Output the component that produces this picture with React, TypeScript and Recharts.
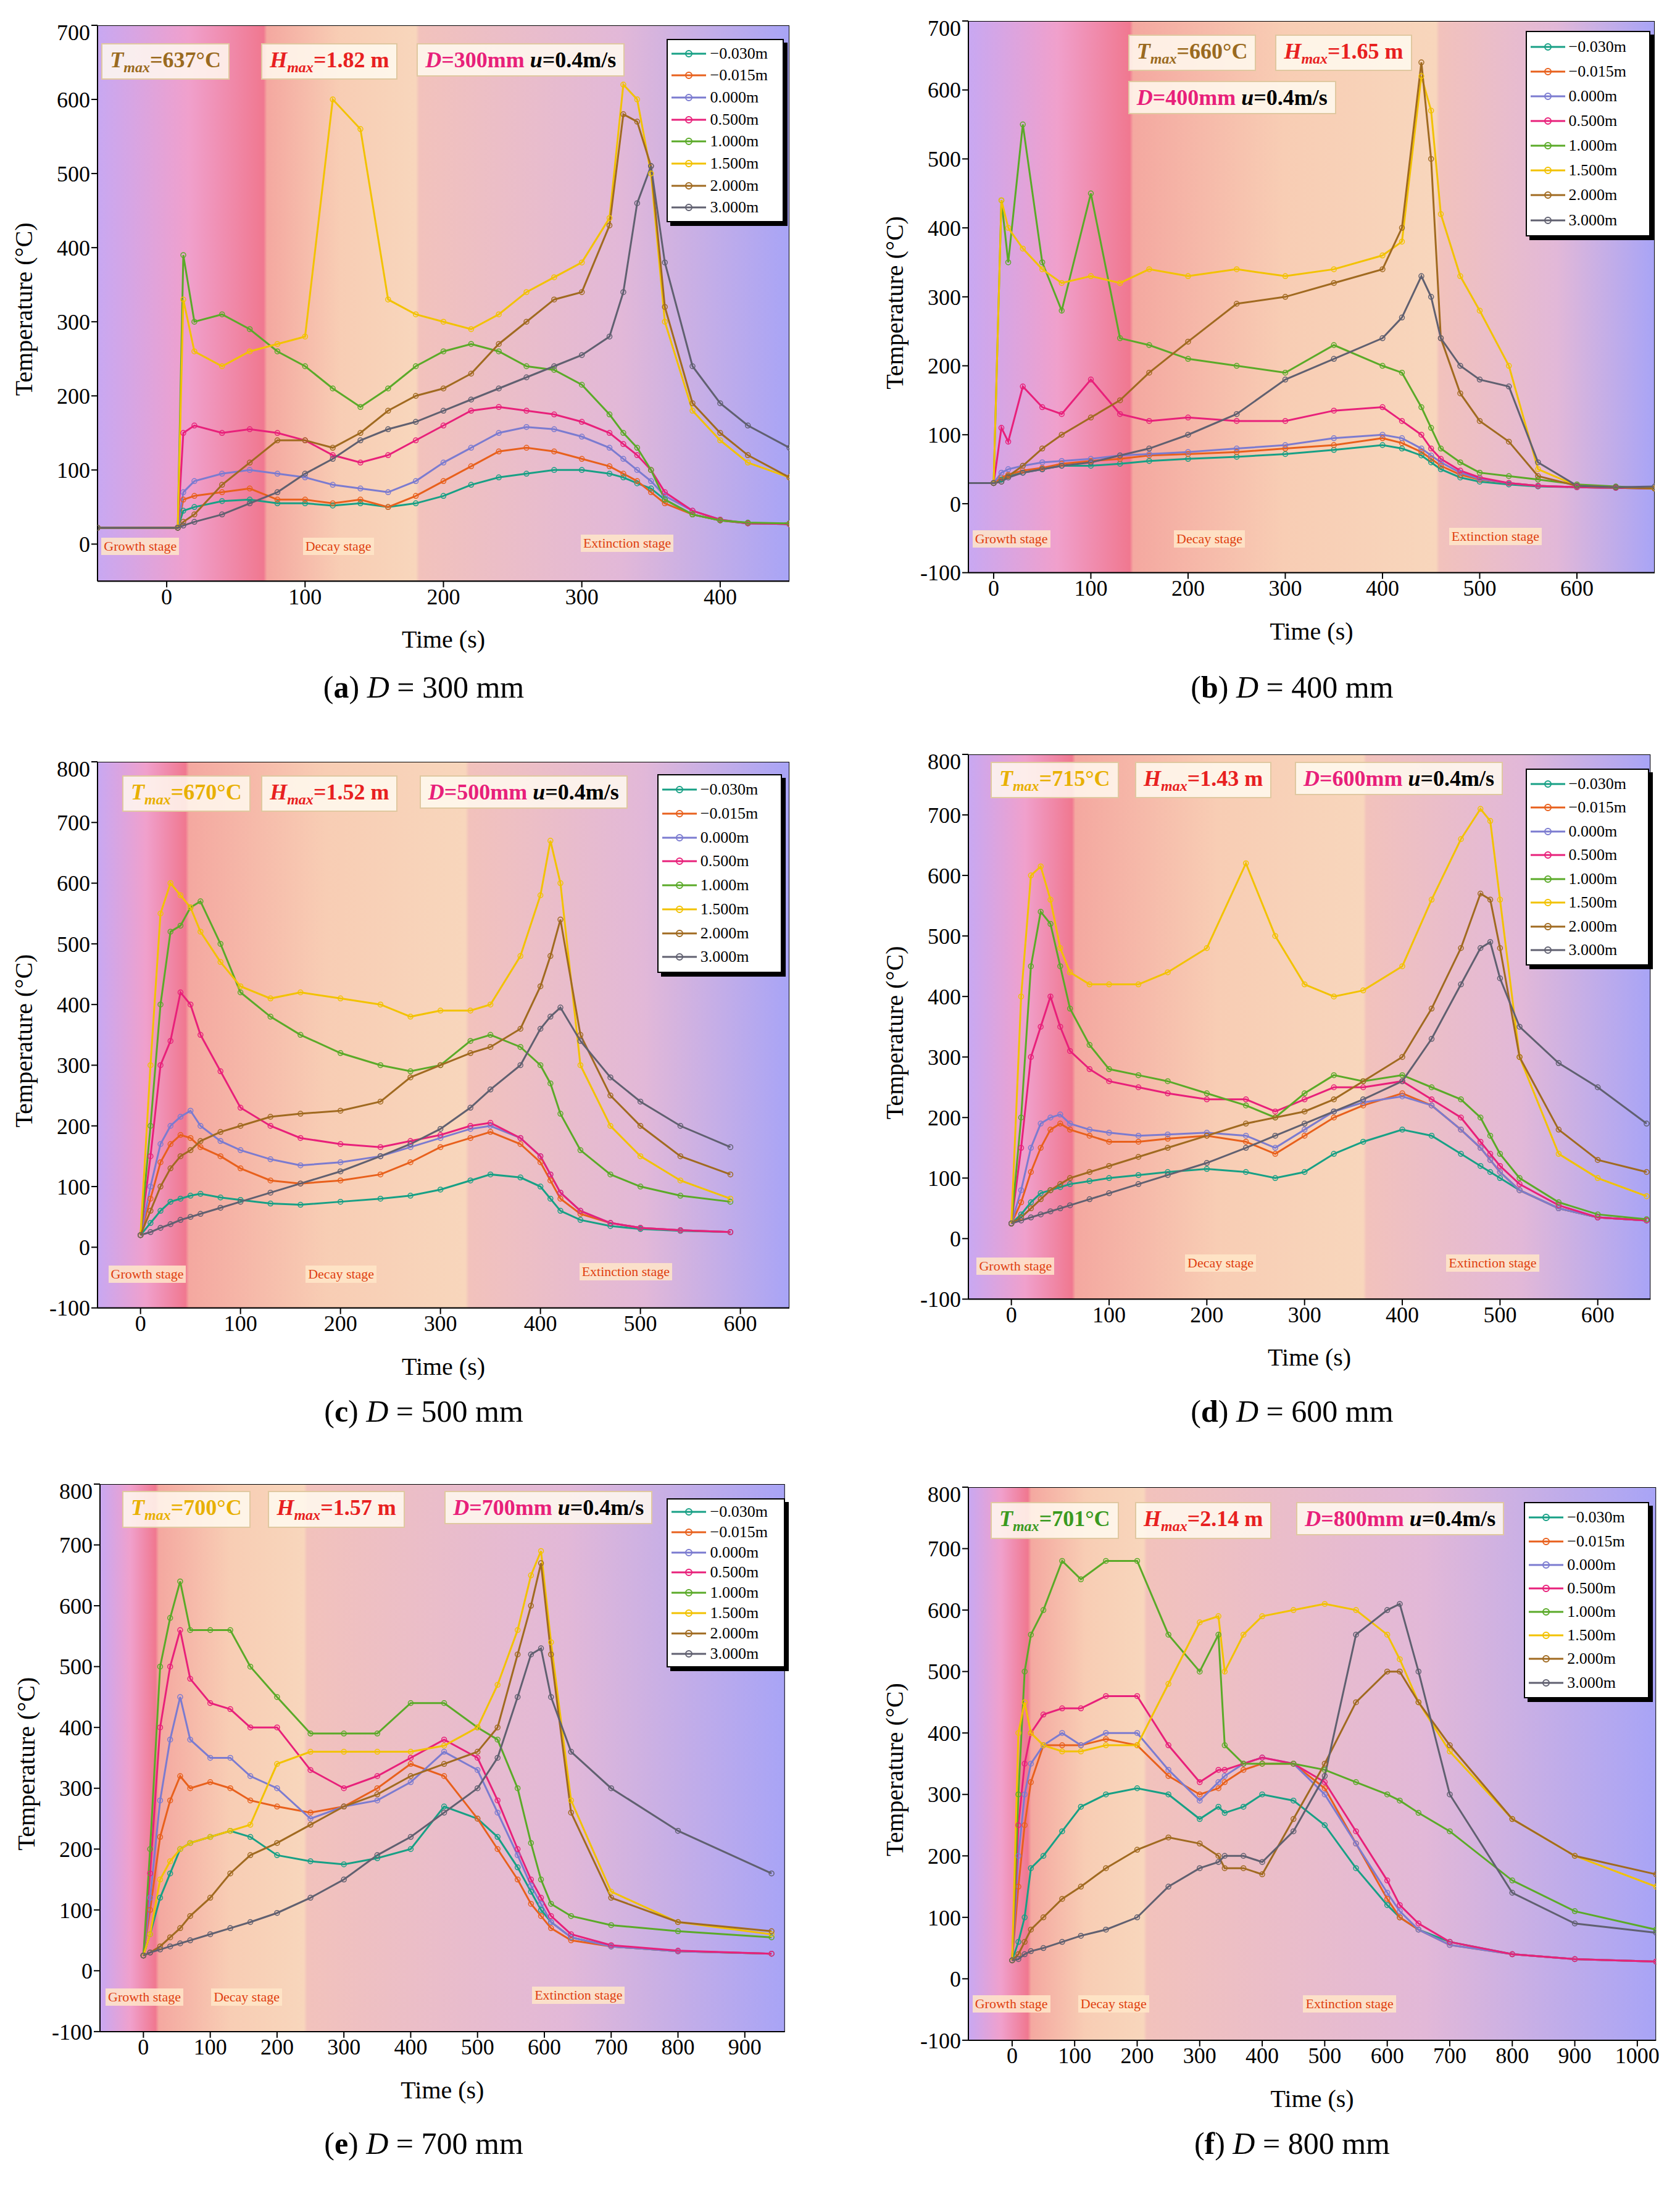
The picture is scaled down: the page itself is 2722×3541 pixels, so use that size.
import React from "react";
import { LineChart, Line, XAxis, YAxis, ReferenceArea } from "recharts";

const S = 2.251; // displayed -> full px

const seriesNames = ["-0.030m", "-0.015m", "0.000m", "0.500m", "1.000m", "1.500m", "2.000m", "3.000m"];
const colors = ["#17a085", "#e8601c", "#7b7bd0", "#e8207a", "#5aaa28", "#f2c200", "#a06a20", "#606070"];

// (a) D = 300 mm
const timesA = [-50, 8, 12, 20, 40, 60, 80, 100, 120, 140, 160, 180, 200, 220, 240, 260, 280, 300, 320, 330, 340, 350, 360, 380, 400, 420, 450];
const aS1 = [22, 22, 45, 50, 58, 60, 55, 55, 52, 55, 50, 55, 65, 80, 90, 95, 100, 100, 95, 90, 82, 75, 60, 40, 32, 28, 27];
const aS2 = [22, 22, 60, 65, 70, 75, 60, 60, 55, 60, 50, 65, 85, 105, 125, 130, 125, 115, 105, 95, 85, 70, 55, 40, 32, 28, 27];
const aS3 = [22, 22, 70, 85, 95, 100, 95, 90, 80, 75, 70, 85, 110, 130, 150, 158, 155, 145, 130, 115, 100, 85, 65, 45, 33, 28, 27];
const aS4 = [22, 22, 150, 160, 150, 155, 150, 140, 120, 110, 120, 140, 160, 180, 185, 180, 175, 165, 150, 135, 120, 100, 70, 45, 33, 28, 27];
const aS5 = [22, 22, 390, 300, 310, 290, 260, 240, 210, 185, 210, 240, 260, 270, 260, 240, 235, 215, 175, 150, 130, 100, 60, 40, 32, 29, 28];
const aS6 = [22, 22, 330, 260, 240, 260, 270, 280, 600, 560, 330, 310, 300, 290, 310, 340, 360, 380, 440, 620, 600, 500, 300, 180, 140, 110, 90];
const aS7 = [22, 22, 30, 40, 80, 110, 140, 140, 130, 150, 180, 200, 210, 230, 270, 300, 330, 340, 430, 580, 570, 510, 320, 190, 150, 120, 90];
const aS8 = [22, 22, 25, 30, 40, 55, 70, 95, 115, 140, 155, 165, 180, 195, 210, 225, 240, 255, 280, 340, 460, 510, 380, 240, 190, 160, 130];

// (b) D = 400 mm
const timesB = [-30, 0, 8, 15, 30, 50, 70, 100, 130, 160, 200, 250, 300, 350, 400, 420, 440, 450, 460, 480, 500, 530, 560, 600, 640, 680];
const bS1 = [30, 30, 35, 40, 45, 50, 55, 55, 58, 62, 65, 68, 72, 78, 85, 80, 70, 60, 50, 38, 32, 28, 25, 24, 23, 22];
const bS2 = [30, 30, 38, 42, 48, 52, 58, 62, 65, 70, 72, 75, 80, 85, 95, 88, 75, 65, 55, 42, 35, 30, 26, 24, 23, 22];
const bS3 = [30, 30, 45, 50, 55, 60, 62, 65, 70, 72, 75, 80, 85, 95, 100, 95, 80, 70, 60, 45, 36, 30, 26, 24, 23, 22];
const bS4 = [30, 30, 110, 90, 170, 140, 130, 180, 130, 120, 125, 120, 120, 135, 140, 120, 100, 80, 65, 48, 38, 30, 26, 24, 23, 22];
const bS5 = [30, 30, 440, 350, 550, 350, 280, 450, 240, 230, 210, 200, 190, 230, 200, 190, 140, 110, 80, 60, 45, 40, 35, 28, 25, 22];
const bS6 = [30, 30, 440, 400, 370, 340, 320, 330, 320, 340, 330, 340, 330, 340, 360, 380, 620, 570, 420, 330, 280, 200, 50, 26, 24, 22];
const bS7 = [30, 30, 32, 40, 55, 80, 100, 125, 150, 190, 235, 290, 300, 320, 340, 400, 640, 500, 240, 160, 120, 90, 40, 26, 24, 22];
const bS8 = [30, 30, 32, 38, 45, 50, 55, 60, 70, 80, 100, 130, 180, 210, 240, 270, 330, 300, 240, 200, 180, 170, 60, 26, 24, 25];

// (c) D = 500 mm
const timesC = [0, 10, 20, 30, 40, 50, 60, 80, 100, 130, 160, 200, 240, 270, 300, 330, 350, 380, 400, 410, 420, 440, 470, 500, 540, 590];
const cS1 = [20, 40, 60, 75, 80, 85, 88, 82, 78, 72, 70, 75, 80, 85, 95, 110, 120, 115, 100, 80, 60, 45, 35, 30, 27, 25];
const cS2 = [20, 80, 140, 170, 185, 180, 165, 150, 130, 110, 105, 110, 120, 140, 165, 180, 190, 170, 140, 110, 80, 55, 40, 32, 28, 25];
const cS3 = [20, 100, 170, 200, 215, 225, 200, 175, 160, 145, 135, 140, 150, 165, 180, 195, 200, 180, 150, 120, 90, 60, 40, 32, 28, 25];
const cS4 = [20, 150, 300, 340, 420, 400, 350, 290, 230, 200, 180, 170, 165, 175, 185, 200, 205, 180, 150, 120, 90, 60, 40, 32, 28, 25];
const cS5 = [20, 200, 400, 520, 530, 560, 570, 500, 420, 380, 350, 320, 300, 290, 300, 340, 350, 330, 300, 270, 220, 160, 120, 100, 85, 75];
const cS6 = [20, 300, 550, 600, 580, 560, 520, 470, 430, 410, 420, 410, 400, 380, 390, 390, 400, 480, 580, 670, 600, 300, 200, 150, 110, 80];
const cS7 = [20, 60, 100, 130, 150, 160, 175, 190, 200, 215, 220, 225, 240, 280, 300, 320, 330, 360, 430, 480, 540, 350, 250, 200, 150, 120];
const cS8 = [20, 25, 32, 38, 45, 50, 55, 65, 75, 90, 105, 125, 150, 170, 195, 230, 260, 300, 360, 380, 395, 340, 280, 240, 200, 165];

// (d) D = 600 mm
const timesD = [0, 10, 20, 30, 40, 50, 60, 80, 100, 130, 160, 200, 240, 270, 300, 330, 360, 400, 430, 460, 480, 490, 500, 520, 560, 600, 650];
const dS1 = [25, 40, 60, 75, 80, 85, 90, 95, 100, 105, 110, 115, 110, 100, 110, 140, 160, 180, 170, 140, 120, 110, 100, 80, 50, 35, 30];
const dS2 = [25, 60, 110, 150, 180, 190, 180, 170, 160, 160, 165, 170, 160, 140, 170, 200, 220, 240, 220, 180, 150, 130, 110, 80, 50, 35, 30];
const dS3 = [25, 80, 150, 190, 200, 205, 190, 180, 175, 170, 172, 175, 170, 150, 180, 210, 225, 235, 220, 180, 150, 130, 110, 80, 50, 35, 30];
const dS4 = [25, 150, 300, 350, 400, 350, 310, 280, 260, 250, 240, 230, 230, 210, 230, 250, 250, 260, 230, 200, 160, 140, 120, 90, 55, 35, 30];
const dS5 = [25, 200, 450, 540, 520, 450, 380, 320, 280, 270, 260, 240, 220, 200, 240, 270, 260, 270, 250, 230, 200, 170, 140, 100, 60, 40, 32];
const dS6 = [25, 400, 600, 615, 560, 480, 440, 420, 420, 420, 440, 480, 620, 500, 420, 400, 410, 450, 560, 660, 710, 690, 560, 300, 140, 100, 70];
const dS7 = [25, 35, 50, 65, 80, 90, 100, 110, 120, 135, 150, 170, 190, 200, 210, 230, 260, 300, 380, 480, 570, 560, 480, 300, 180, 130, 110];
const dS8 = [25, 30, 35, 40, 45, 50, 55, 65, 75, 90, 105, 125, 150, 170, 190, 210, 230, 260, 330, 420, 480, 490, 430, 350, 290, 250, 190];

// (e) D = 700 mm
const timesE = [0, 10, 25, 40, 55, 70, 100, 130, 160, 200, 250, 300, 350, 400, 450, 500, 530, 560, 580, 595, 610, 640, 700, 800, 940];
const eS1 = [25, 60, 120, 160, 200, 210, 220, 230, 220, 190, 180, 175, 185, 200, 270, 250, 220, 170, 130, 100, 80, 55, 40, 32, 28];
const eS2 = [25, 100, 220, 280, 320, 300, 310, 300, 280, 270, 260, 270, 300, 340, 320, 250, 200, 150, 110, 90, 70, 50, 40, 32, 28];
const eS3 = [25, 120, 280, 380, 450, 380, 350, 350, 320, 300, 250, 270, 280, 310, 360, 330, 260, 190, 140, 110, 80, 55, 40, 32, 28];
const eS4 = [25, 160, 400, 500, 560, 480, 440, 430, 400, 400, 330, 300, 320, 350, 380, 350, 280, 200, 150, 120, 90, 60, 42, 33, 28];
const eS5 = [25, 200, 500, 580, 640, 560, 560, 560, 500, 450, 390, 390, 390, 440, 440, 400, 380, 300, 210, 150, 110, 90, 75, 65, 55];
const eS6 = [25, 60, 150, 180, 200, 210, 220, 230, 240, 340, 360, 360, 360, 360, 370, 400, 470, 560, 650, 690, 540, 280, 130, 80, 60];
const eS7 = [25, 30, 40, 55, 70, 90, 120, 160, 190, 210, 240, 270, 290, 320, 340, 360, 400, 520, 600, 670, 520, 260, 120, 80, 65];
const eS8 = [25, 30, 35, 40, 45, 50, 60, 70, 80, 95, 120, 150, 190, 220, 260, 300, 350, 450, 520, 530, 450, 360, 300, 230, 160];

// (f) D = 800 mm
const timesF = [0, 10, 20, 30, 50, 80, 110, 150, 200, 250, 300, 330, 340, 370, 400, 450, 500, 550, 600, 620, 650, 700, 800, 900, 1030];
const fS1 = [30, 60, 100, 180, 200, 240, 280, 300, 310, 300, 260, 280, 270, 280, 300, 290, 250, 180, 120, 100, 80, 60, 40, 32, 28];
const fS2 = [30, 150, 250, 320, 380, 380, 380, 390, 380, 330, 300, 310, 320, 340, 350, 350, 310, 220, 130, 100, 80, 55, 40, 32, 28];
const fS3 = [30, 200, 300, 350, 380, 400, 380, 400, 400, 340, 290, 320, 330, 350, 360, 350, 300, 220, 140, 110, 80, 55, 40, 32, 28];
const fS4 = [30, 250, 350, 400, 430, 440, 440, 460, 460, 380, 320, 340, 340, 350, 360, 350, 320, 240, 160, 120, 90, 60, 40, 32, 28];
const fS5 = [30, 300, 500, 560, 600, 680, 650, 680, 680, 560, 500, 560, 380, 350, 350, 350, 340, 320, 300, 290, 270, 240, 160, 110, 80];
const fS6 = [30, 400, 450, 400, 380, 370, 370, 380, 380, 480, 580, 590, 500, 560, 590, 600, 610, 600, 560, 520, 450, 370, 260, 200, 150];
const fS7 = [30, 40, 60, 80, 100, 130, 150, 180, 210, 230, 220, 200, 180, 180, 170, 260, 350, 450, 500, 500, 450, 380, 260, 200, 170];
const fS8 = [30, 32, 40, 45, 50, 60, 70, 80, 100, 150, 180, 190, 200, 200, 190, 240, 330, 560, 600, 610, 500, 300, 140, 90, 75];

const ticks300 = [0, 100, 200, 300, 400];
const ticks600 = [0, 100, 200, 300, 400, 500, 600];
const ticks900 = [0, 100, 200, 300, 400, 500, 600, 700, 800, 900];
const ticks1000 = [0, 100, 200, 300, 400, 500, 600, 700, 800, 900, 1000];
const yTicks700 = [0, 100, 200, 300, 400, 500, 600, 700];
const yTicksB = [-100, 0, 100, 200, 300, 400, 500, 600, 700];
const yTicks800 = [-100, 0, 100, 200, 300, 400, 500, 600, 700, 800];

function build(times: number[], series: number[][]) {
  return times.map((t, i) => {
    const row: any = { t };
    series.forEach((s, k) => (row["s" + k] = s[i]));
    return row;
  });
}

type P = {
  id: string; letter: string; dmm: string; tmax: string; hmax: string; tColor: string;
  data: any[]; xDom: [number, number]; yDom: [number, number]; xTicks: number[]; yTicks: number[];
  plot: [number, number, number, number]; // displayed l,t,r,b
  growth: number; decay: number;
  boxes: { tm: [number, number]; hm: [number, number]; du: [number, number] };
  legend: [number, number, number, number];
  stages: [number, number][];
  caption: [number, number];
};

const panels: P[] = [
  { id: "a", letter: "a", dmm: "300", tmax: "637", hmax: "1.82", tColor: "#9a6a20", data: build(timesA, [aS1, aS2, aS3, aS4, aS5, aS6, aS7, aS8]),
    xDom: [-50, 450], yDom: [-50, 700], xTicks: ticks300, yTicks: yTicks700, plot: [70, 18, 568, 418], growth: 70, decay: 180,
    boxes: { tm: [73, 31], hm: [188, 31], du: [300, 31] }, legend: [480, 28, 564, 160],
    stages: [[73, 393], [218, 393], [418, 391]], caption: [305, 495] },
  { id: "b", letter: "b", dmm: "400", tmax: "660", hmax: "1.65", tColor: "#9a6a20", data: build(timesB, [bS1, bS2, bS3, bS4, bS5, bS6, bS7, bS8]),
    xDom: [-26, 680], yDom: [-100, 700], xTicks: ticks600, yTicks: yTicksB, plot: [697, 15, 1191, 412], growth: 140, decay: 455,
    boxes: { tm: [812, 25], hm: [918, 25], du: [812, 58] }, legend: [1098, 22, 1188, 170],
    stages: [[700, 388], [845, 388], [1043, 386]], caption: [930, 495] },
  { id: "c", letter: "c", dmm: "500", tmax: "670", hmax: "1.52", tColor: "#e8b000", data: build(timesC, [cS1, cS2, cS3, cS4, cS5, cS6, cS7, cS8]),
    xDom: [-43, 649], yDom: [-100, 800], xTicks: ticks600, yTicks: yTicks800, plot: [70, 548, 568, 941], growth: 45, decay: 325,
    boxes: { tm: [88, 558], hm: [188, 558], du: [302, 558] }, legend: [473, 557, 563, 700],
    stages: [[78, 917], [220, 917], [417, 915]], caption: [305, 1016] },
  { id: "d", letter: "d", dmm: "600", tmax: "715", hmax: "1.43", tColor: "#e8b000", data: build(timesD, [dS1, dS2, dS3, dS4, dS5, dS6, dS7, dS8]),
    xDom: [-44, 654], yDom: [-100, 800], xTicks: ticks600, yTicks: yTicks800, plot: [697, 543, 1188, 935], growth: 62, decay: 360,
    boxes: { tm: [713, 548], hm: [817, 548], du: [932, 548] }, legend: [1098, 553, 1187, 695],
    stages: [[703, 911], [853, 909], [1041, 909]], caption: [930, 1016] },
  { id: "e", letter: "e", dmm: "700", tmax: "700", hmax: "1.57", tColor: "#e8b000", data: build(timesE, [eS1, eS2, eS3, eS4, eS5, eS6, eS7, eS8]),
    xDom: [-65, 960], yDom: [-100, 800], xTicks: ticks900, yTicks: yTicks800, plot: [72, 1068, 565, 1462], growth: 18, decay: 240,
    boxes: { tm: [88, 1073], hm: [193, 1073], du: [320, 1073] }, legend: [480, 1078, 565, 1200],
    stages: [[76, 1437], [152, 1437], [383, 1436]], caption: [305, 1543] },
  { id: "f", letter: "f", dmm: "800", tmax: "701", hmax: "2.14", tColor: "#3a9a20", data: build(timesF, [fS1, fS2, fS3, fS4, fS5, fS6, fS7, fS8]),
    xDom: [-70, 1030], yDom: [-100, 800], xTicks: ticks1000, yTicks: yTicks800, plot: [697, 1070, 1192, 1468], growth: 25, decay: 210,
    boxes: { tm: [713, 1081], hm: [817, 1081], du: [933, 1081] }, legend: [1097, 1081, 1187, 1222],
    stages: [[700, 1442], [776, 1442], [938, 1442]], caption: [930, 1543] },
];

const font = "'Liberation Serif', 'Times New Roman', serif";
const boxStyle: React.CSSProperties = {
  position: "absolute", background: "rgba(255,250,240,0.85)", border: "2px solid #e0c8a0",
  padding: "4px 12px", fontSize: 36, fontWeight: "bold", fontFamily: font, whiteSpace: "nowrap",
};

function Panel({ p }: { p: P }) {
  const [l, t, r, b] = p.plot.map((v) => v * S);
  const YW = 150, XH = 120, PAD = 10;
  const width = r - l + YW + PAD;
  const height = b - t + PAD + XH;
  const span = p.xDom[1] - p.xDom[0];
  const g = (p.growth - p.xDom[0]) / span;
  const d = (p.decay - p.xDom[0]) / span;
  const gid = "bg" + p.id;
  const stageText = ["Growth stage", "Decay stage", "Extinction stage"];
  return (
    <>
      <div style={{ position: "absolute", left: l - YW, top: t - PAD }}>
        <LineChart width={width} height={height} data={p.data} margin={{ top: PAD, right: PAD, left: 0, bottom: 0 }}>
          <defs>
            <linearGradient id={gid} x1="0" y1="0" x2="1" y2="0">
              <stop offset={0} stopColor="#c8a8f2" />
              <stop offset={g * 0.55} stopColor="#f0a0cc" />
              <stop offset={g} stopColor="#f07890" />
              <stop offset={g + 0.005} stopColor="#f4a8a0" />
              <stop offset={(g + d) / 2} stopColor="#f8cdb4" />
              <stop offset={d} stopColor="#f8d6bc" />
              <stop offset={d + 0.005} stopColor="#f2c2bc" />
              <stop offset={Math.min(0.95, d + (1 - d) * 0.55)} stopColor="#e2b8d8" />
              <stop offset={1} stopColor="#a8a4f6" />
            </linearGradient>
          </defs>
          <XAxis dataKey="t" type="number" domain={p.xDom} ticks={p.xTicks} allowDataOverflow height={XH}
            tick={{ fontSize: 36, fill: "#000", fontFamily: font }} tickSize={10} stroke="#000" strokeWidth={2}
            label={{ value: "Time (s)", position: "insideBottom", offset: 12, fontSize: 40, fill: "#000", fontFamily: font }} />
          <YAxis type="number" domain={p.yDom} ticks={p.yTicks} allowDataOverflow width={YW}
            tick={{ fontSize: 36, fill: "#000", fontFamily: font }} tickSize={10} stroke="#000" strokeWidth={2}
            label={{ value: "Temperature (°C)", angle: -90, position: "insideLeft", offset: 30, dy: 150, fontSize: 40, fill: "#000", fontFamily: font }} />
          <ReferenceArea x1={p.xDom[0]} x2={p.xDom[1]} y1={p.yDom[0]} y2={p.yDom[1]} fill={`url(#${gid})`} fillOpacity={1} stroke="#000" strokeWidth={2} ifOverflow="hidden" />
          {seriesNames.map((n, k) => (
            <Line key={n} dataKey={"s" + k} name={n} stroke={colors[k]} strokeWidth={3} isAnimationActive={false}
              dot={{ r: 4, fill: "none", stroke: colors[k], strokeWidth: 1.5 }} />
          ))}
        </LineChart>
      </div>
      <div style={{ ...boxStyle, left: p.boxes.tm[0] * S, top: p.boxes.tm[1] * S, color: p.tColor }}>
        <i>T</i><sub style={{ fontSize: 24 }}><i>max</i></sub>={p.tmax}°C
      </div>
      <div style={{ ...boxStyle, left: p.boxes.hm[0] * S, top: p.boxes.hm[1] * S, color: "#e82020" }}>
        <i>H</i><sub style={{ fontSize: 24 }}><i>max</i></sub>={p.hmax} m
      </div>
      <div style={{ ...boxStyle, left: p.boxes.du[0] * S, top: p.boxes.du[1] * S }}>
        <span style={{ color: "#e8207a" }}><i>D</i>={p.dmm}mm</span> <span style={{ color: "#000" }}><i>u</i>=0.4m/s</span>
      </div>
      <div style={{ position: "absolute", left: p.legend[0] * S, top: p.legend[1] * S, width: (p.legend[2] - p.legend[0]) * S,
        height: (p.legend[3] - p.legend[1]) * S, background: "#fff", border: "2px solid #000", boxSizing: "border-box",
        boxShadow: "6px 6px 0 #000", padding: "4px 6px", display: "flex", flexDirection: "column", justifyContent: "space-around" }}>
        {seriesNames.map((n, k) => (
          <div key={n} style={{ display: "flex", alignItems: "center", fontSize: 26, fontFamily: font, lineHeight: 1 }}>
            <svg width={56} height={16} style={{ marginRight: 6 }}>
              <line x1={0} y1={8} x2={56} y2={8} stroke={colors[k]} strokeWidth={3} />
              <circle cx={28} cy={8} r={5} fill="none" stroke={colors[k]} strokeWidth={2} />
            </svg>
            {n.replace("-", "\u2212")}
          </div>
        ))}
      </div>
      {p.stages.map(([x, y], k) => (
        <div key={k} style={{ position: "absolute", left: x * S, top: y * S - 14, fontSize: 22, fontFamily: font,
          color: "#e04010", background: "rgba(255,230,200,0.85)", padding: "1px 4px" }}>{stageText[k]}</div>
      ))}
      <div style={{ position: "absolute", left: p.caption[0] * S - 300, width: 600, top: p.caption[1] * S - 30, textAlign: "center",
        fontSize: 50, fontFamily: font }}>
        (<b>{p.letter}</b>) <i>D</i> = {p.dmm} mm
      </div>
    </>
  );
}

export default function App() {
  return (
    <div style={{ position: "absolute", left: 0, top: 0, width: 2722, height: 3541, background: "#fff" }}>
      {panels.map((p) => <Panel key={p.id} p={p} />)}
    </div>
  );
}
